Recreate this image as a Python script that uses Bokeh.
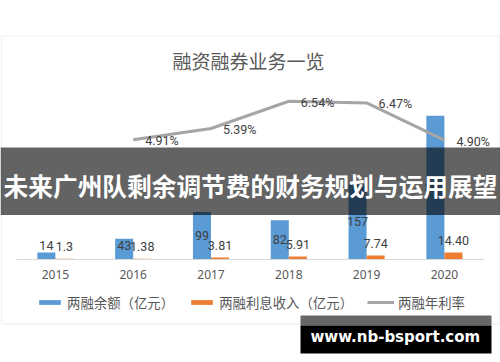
import numpy as np
from bokeh.plotting import figure
from bokeh.models import (Range1d, ColumnDataSource, FixedTicker, Legend, LegendItem,
                          BoxAnnotation, Label)
from bokeh.transform import dodge
from bokeh.core.properties import value
from bokeh.embed import file_html
from bokeh.resources import INLINE

# ---------------- data ----------------
years = [2015, 2016, 2017, 2018, 2019, 2020]
year_labels = ["2015", "2016", "2017", "2018", "2019", "2020"]
balance = [14, 43, 99, 82, 157, 301]
balance_labels = ["14", "43", "99", "82", "157", "301"]
interest = [1.3, 1.38, 3.81, 5.91, 7.74, 14.40]
interest_labels = ["1.3", "1.38", "3.81", "5.91", "7.74", "14.40"]
rate_years = [2016, 2017, 2018, 2019, 2020]
rates = [4.91, 5.39, 6.54, 6.47, 4.90]

title_text = "融资融券业务一览"
banner_text = "未来广州队剩余调节费的财务规划与运用展望"
watermark_text = "www.nb-bsport.com"
series_names = ["两融余额（亿元）", "两融利息收入（亿元）", "两融年利率"]

# ---------------- geometry (figure pixels) ----------------
W, H = 500, 362
XPPU = 77.8                 # px per category
X0 = 2014.5 - 16 / XPPU
YPPU = 0.477                # px per 亿元
Y0 = -(H - 258.8) / YPPU
RPPU = 23.68                # px per percent
R0 = -(H - 255.6) / RPPU


def px(xp):
    return X0 + xp / XPPU


def py(yp):
    return Y0 + (H - yp) / YPPU


CJK = "Noto Sans CJK SC"
NUM = "Roboto"

p = figure(width=W, height=H, output_backend="svg", toolbar_location=None,
           x_range=Range1d(X0, X0 + W / XPPU), y_range=Range1d(Y0, Y0 + H / YPPU),
           x_axis_location="below", y_axis_location=None, min_border=0, title=None)
p.extra_y_ranges = {"rate": Range1d(R0, R0 + H / RPPU)}
p.outline_line_color = None
p.background_fill_color = "white"
p.border_fill_color = "white"
p.xgrid.visible = False
p.ygrid.visible = False

ax = p.xaxis[0]
ax.fixed_location = 0
ax.bounds = (2014.5, 2020.5)
ax.ticker = FixedTicker(ticks=years)
ax.major_label_overrides = {y: s for y, s in zip(years, year_labels)}
ax.major_tick_line_color = None
ax.minor_tick_line_color = None
ax.major_tick_out = 0
ax.major_tick_in = 0
ax.axis_line_color = "#d9d9d9"
ax.axis_line_width = 1
ax.major_label_standoff = 11
ax.major_label_text_font = "Noto Sans"
ax.major_label_text_font_size = "12px"
ax.major_label_text_color = "#595959"

src = ColumnDataSource(dict(
    year=years, balance=balance, interest=interest,
    bal_lab=balance_labels, int_lab=interest_labels,
    bal_y=np.maximum(np.array(balance, dtype=float) / 2, 28),
))
rsrc = ColumnDataSource(dict(year=rate_years, rate=rates,
                             lab=[f"{r:.2f}%" for r in rates]))

bw = 0.232
b1 = p.vbar(x=dodge("year", -0.116, range=p.x_range), top="balance", width=bw,
            fill_color="#5b9bd5", line_color=None, source=src)
b2 = p.vbar(x=dodge("year", 0.116, range=p.x_range), top="interest", width=bw,
            fill_color="#ed7d31", line_color=None, source=src)
ln = p.line("year", "rate", source=rsrc, y_range_name="rate", line_width=3,
            line_color="#a5a5a5", line_join="round")

p.text(x=dodge("year", -0.116, range=p.x_range), y="bal_y", text="bal_lab", source=src,
       text_align="center", text_baseline="middle", text_font=value(NUM),
       text_font_size="12.5px", text_color="#404040")
p.text(x=dodge("year", 0.116, range=p.x_range), y="interest", text="int_lab", source=src,
       y_offset=-12, text_align="center", text_baseline="middle", text_font=value(NUM),
       text_font_size="12.5px", text_color="#404040")
p.text(x="year", y="rate", text="lab", source=rsrc, y_range_name="rate",
       x_offset=12, y_offset=1, text_align="left", text_baseline="middle",
       text_font=value(NUM), text_font_size="12.5px", text_color="#404040")

# chart outer frame
p.add_layout(BoxAnnotation(left=px(1), right=px(499), top=py(35.7), bottom=py(323.5),
                           fill_color=None, line_color="#d9d9d9", line_width=1.5))

# title
p.add_layout(Label(x=px(248), y=py(60), text=title_text, text_align="center",
                   text_baseline="middle", text_font=CJK, text_font_size="19px",
                   text_color="#595959"))

legend = Legend(items=[LegendItem(label=value(series_names[0]), renderers=[b1]),
                       LegendItem(label=value(series_names[1]), renderers=[b2]),
                       LegendItem(label=value(series_names[2]), renderers=[ln])],
                location=(36, 50), orientation="horizontal", glyph_width=27, glyph_height=6,
                label_standoff=4, spacing=14, padding=0, margin=0, label_height=14,
                border_line_color=None, background_fill_alpha=0,
                label_text_font=CJK, label_text_font_size="13.4px",
                label_text_color="#595959")
p.add_layout(legend)

# banner overlay
p.add_layout(BoxAnnotation(left=None, right=None, top=py(147), bottom=py(214.5),
                           fill_color="black", fill_alpha=0.61, line_color=None))
p.add_layout(Label(x=px(250), y=py(184), text=banner_text, text_align="center",
                   text_baseline="middle", text_font=CJK, text_font_style="bold",
                   text_font_size="24.7px", text_color="white"))

# watermark
p.add_layout(BoxAnnotation(left=px(300), right=px(491), top=py(315), bottom=py(325),
                           fill_color="#666666", fill_alpha=1, line_color=None))
p.add_layout(BoxAnnotation(left=px(300), right=px(491), top=py(325), bottom=py(353),
                           fill_color="black", fill_alpha=1, line_color=None))
p.add_layout(Label(x=px(394.8), y=py(336.7), text=watermark_text, text_align="center",
                   text_baseline="middle", text_font="DejaVu Sans", text_font_style="bold",
                   text_font_size="15px", text_color="white"))

open("out.html", "w").write(file_html(p, INLINE))
